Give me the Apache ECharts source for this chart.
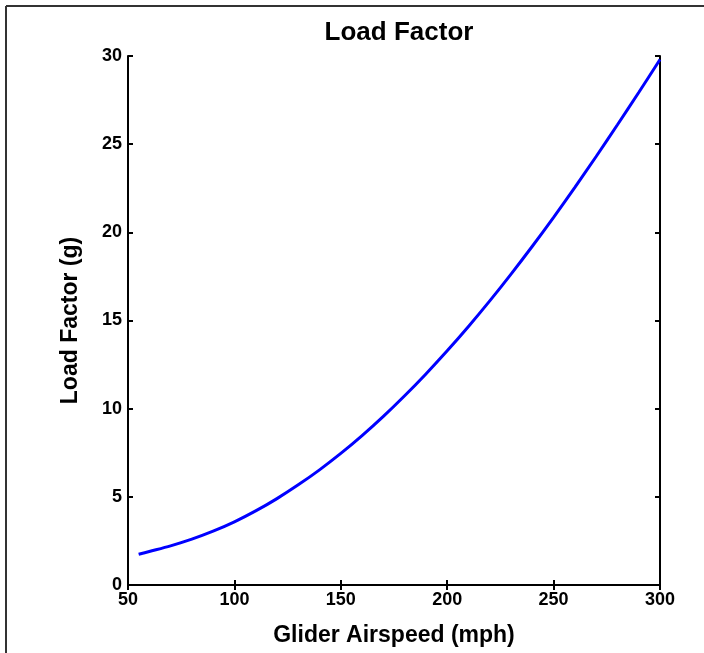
<!DOCTYPE html>
<html>
<head>
<meta charset="utf-8">
<script src="https://cdn.jsdelivr.net/npm/echarts@6/dist/echarts.min.js"></script>
<style>
html,body{margin:0;padding:0;background:#fff;}
#chart{width:704px;height:653px;}
</style>
</head>
<body>
<div id="chart"></div>
<script>
const chartTitle = 'Load Factor';
const xAxisName = 'Glider Airspeed (mph)';
const yAxisName = 'Load Factor (g)';
const airspeed = [55, 60, 70, 80, 90, 100, 110, 120, 130, 140, 150, 160, 170, 180, 190, 200, 210, 220, 230, 240, 250, 260, 270, 280, 290, 300];
const loadFactor = [1.74, 1.9, 2.22, 2.6, 3.05, 3.58, 4.2, 4.9, 5.68, 6.53, 7.46, 8.47, 9.56, 10.73, 11.97, 13.28, 14.66, 16.11, 17.63, 19.21, 20.85, 22.55, 24.3, 26.1, 27.93, 29.8];
const xTicks = [50, 100, 150, 200, 250, 300];
const yTicks = [0, 5, 10, 15, 20, 25, 30];

const FONT = "'Liberation Sans', Arial, sans-serif";
const chart = echarts.init(document.getElementById('chart'), null, {renderer: 'canvas'});
const axisLine = {show: true, lineStyle: {color: '#000', width: 2}};
const tickIn = {show: true, inside: true, length: 5, lineStyle: {color: '#000', width: 2}};
const labelStyle = {color: '#000', fontFamily: FONT, fontWeight: 'bold', fontSize: 18};

chart.setOption({
  animation: false,
  backgroundColor: '#fff',
  title: {
    text: chartTitle, left: 394, top: 15, textAlign: 'center',
    textStyle: {color: '#000', fontFamily: FONT, fontWeight: 'bold', fontSize: 26}
  },
  grid: {left: 128, right: 44, top: 56, bottom: 68, containLabel: false},
  xAxis: [{
    type: 'value', min: xTicks[0], max: xTicks[xTicks.length - 1], interval: 50,
    position: 'bottom',
    name: xAxisName, nameLocation: 'middle', nameGap: 39,
    nameTextStyle: {color: '#000', fontFamily: FONT, fontWeight: 'bold', fontSize: 23},
    axisLine: axisLine, axisTick: tickIn,
    axisLabel: Object.assign({margin: 6}, labelStyle),
    splitLine: {show: false}
  }, {
    type: 'value', min: xTicks[0], max: xTicks[xTicks.length - 1], interval: 50,
    position: 'top',
    axisLine: axisLine, axisTick: tickIn, axisLabel: {show: false}, splitLine: {show: false}
  }],
  yAxis: [{
    type: 'value', min: yTicks[0], max: yTicks[yTicks.length - 1], interval: 5,
    position: 'left',
    name: yAxisName, nameLocation: 'middle', nameGap: 46, nameRotate: 90,
    nameTextStyle: {color: '#000', fontFamily: FONT, fontWeight: 'bold', fontSize: 23},
    axisLine: axisLine, axisTick: tickIn,
    axisLabel: Object.assign({margin: 6}, labelStyle),
    splitLine: {show: false}
  }, {
    type: 'value', min: yTicks[0], max: yTicks[yTicks.length - 1], interval: 5,
    position: 'right',
    axisLine: axisLine, axisTick: tickIn, axisLabel: {show: false}, splitLine: {show: false}
  }],
  graphic: [
    {type: 'line', shape: {x1: 6, y1: 6, x2: 704, y2: 6}, style: {stroke: '#333', lineWidth: 2}},
    {type: 'line', shape: {x1: 6, y1: 6, x2: 6, y2: 653}, style: {stroke: '#333', lineWidth: 2}}
  ],
  series: [{
    type: 'line',
    data: airspeed.map((v, i) => [v, loadFactor[i]]),
    smooth: 0.3,
    showSymbol: false,
    lineStyle: {color: '#0000ff', width: 3},
    clip: true
  }]
});
</script>
</body>
</html>
